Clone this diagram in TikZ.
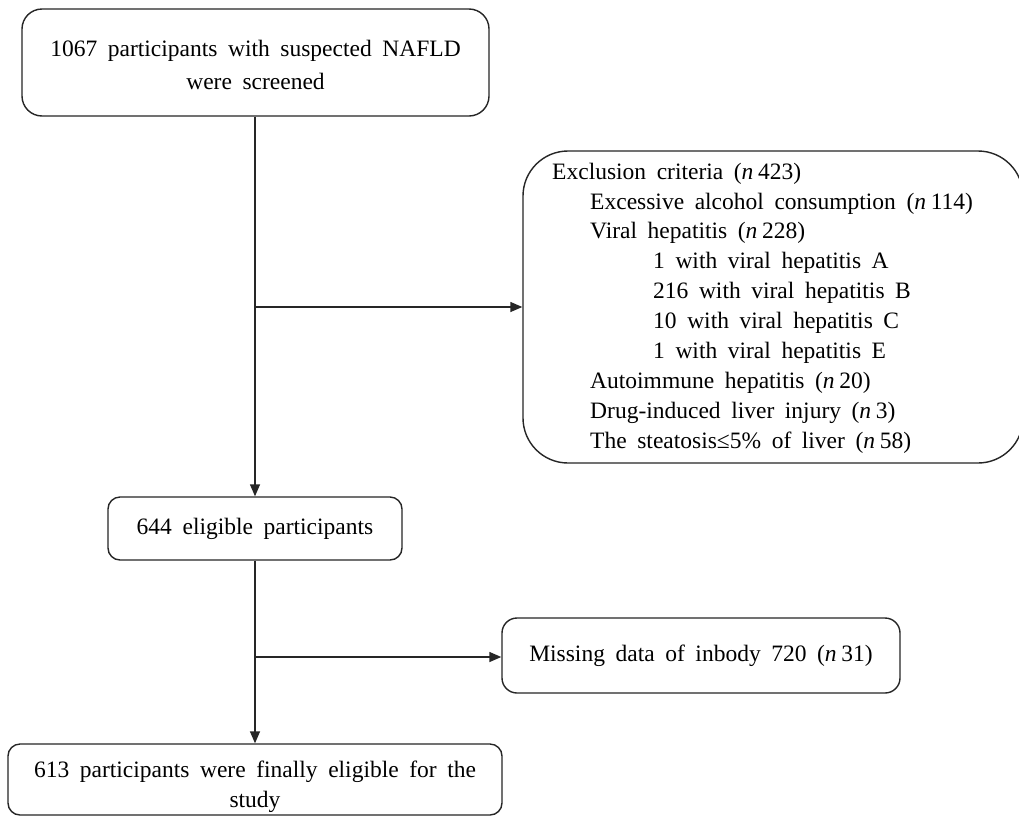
\documentclass[tikz,border=0pt]{standalone}
\usepackage{fontspec}
\setmainfont{Liberation Serif}[WordSpace={1.8}]
\usetikzlibrary{arrows.meta}
\newcommand{\nval}[1]{\textit{n}\hspace{0.2em}#1}
\begin{document}
\begin{tikzpicture}[x=1pt,y=-1pt,
  box/.style={draw=black!85,line width=1.4pt,align=center,inner sep=0pt,
    font=\fontsize{23.5}{32}\selectfont},
  txt/.style={align=center,inner sep=0pt,font=\fontsize{23.5}{30}\selectfont},
  arr/.style={draw=black!85,line width=1.4pt,-{Triangle[length=12pt,width=10pt]}}]
\useasboundingbox (0,0) rectangle (1019,817);
\fill[white] (0,0) rectangle (1019,817);
\node[box,rounded corners=20pt,minimum width=467pt,minimum height=107pt] (top) at (255.5,62.5) {};
\node[txt,font=\fontsize{23.5}{33}\selectfont] (toptext) at (255.5,65)
  {1067 participants with suspected NAFLD\\were screened};
\node[box,rounded corners=45pt,minimum width=500pt,minimum height=312pt] (excl) at (773,307) {};
\node[align=left,anchor=west,inner sep=0pt,font=\fontsize{23.5}{29.9}\selectfont] (excltext) at (552,308)
  {Exclusion criteria (\nval{423})\\
   \hspace*{38pt}Excessive alcohol consumption (\nval{114})\\
   \hspace*{38pt}Viral hepatitis (\nval{228})\\
   \hspace*{101pt}1 with viral hepatitis A\\
   \hspace*{101pt}216 with viral hepatitis B\\
   \hspace*{101pt}10 with viral hepatitis C\\
   \hspace*{101pt}1 with viral hepatitis E\\
   \hspace*{38pt}Autoimmune hepatitis (\nval{20})\\
   \hspace*{38pt}Drug-induced liver injury (\nval{3})\\
   \hspace*{38pt}The steatosis≤5\% of liver (\nval{58})};
\node[box,rounded corners=12pt,minimum width=294pt,minimum height=63pt] (elig) at (255,528.5)
  {644 eligible participants};
\node[box,rounded corners=15pt,minimum width=398pt,minimum height=75pt] (miss) at (701,655.5)
  {Missing data of inbody 720 (\nval{31})};
\node[box,rounded corners=12pt,minimum width=494pt,minimum height=71pt] (final) at (255,779.5) {};
\node[txt] (finaltext) at (255,787)
  {613 participants were finally eligible for the\\study};
\coordinate (j1) at (255,307);
\coordinate (j2) at (255,657);
\draw[arr] (top.south -| j1) -- (elig.north -| j1);
\draw[arr] (j1) -- (j1 -| excl.west);
\draw[arr] (elig.south -| j2) -- (final.north -| j2);
\draw[arr] (j2) -- (j2 -| miss.west);
\end{tikzpicture}
\end{document}
